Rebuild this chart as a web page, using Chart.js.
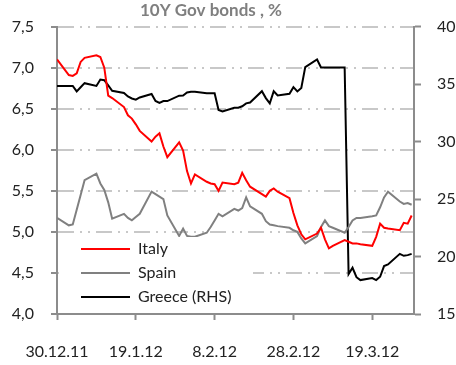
<!DOCTYPE html>
<html>
<head>
<meta charset="utf-8">
<script src="https://cdn.jsdelivr.net/npm/chart.js@4.4.1/dist/chart.umd.min.js"></script>
<style>
  body { margin: 0; background: #fff; }
</style>
</head>
<body>
<canvas id="bondChart" width="456" height="365"></canvas>
<script>
// days counted from 30.12.2011 (business days only)
const days = [0, 3, 4, 5, 6, 7, 10, 11, 12, 13, 14, 17, 18, 19, 20, 21, 24, 25, 26, 27, 28,
    31, 32, 33, 34, 35, 38, 39, 40, 41, 42, 45, 46, 47, 48, 49, 52, 53, 54, 55, 56,
    59, 60, 61, 62, 63, 66, 67, 68, 69, 70, 73, 74, 75, 76, 77, 80, 81, 82, 83, 84, 87, 88, 89, 90];

const italy = [7.10, 6.91, 6.90, 6.93, 7.07, 7.12, 7.15, 7.13, 7.00, 6.66, 6.63,
    6.52, 6.42, 6.38, 6.31, 6.23, 6.10, 6.16, 6.20, 6.04, 5.91,
    6.09, 5.99, 5.74, 5.59, 5.70, 5.61, 5.59, 5.58, 5.50, 5.60,
    5.58, 5.60, 5.72, 5.63, 5.55, 5.46, 5.43, 5.50, 5.53, 5.49,
    5.41, 5.23, 5.08, 4.97, 4.91, 4.98, 5.05, 4.91, 4.80, 4.83,
    4.90, 4.88, 4.86, 4.86, 4.85, 4.83, 4.94, 5.10, 5.05, 5.04, 5.02, 5.11, 5.10, 5.20];

const spain = [5.17, 5.08, 5.09, 5.27, 5.45, 5.63, 5.71, 5.59, 5.51, 5.36, 5.16,
    5.22, 5.17, 5.14, 5.18, 5.22, 5.49, 5.46, 5.43, 5.40, 5.20,
    4.95, 5.04, 4.95, 4.94, 4.94, 4.99, 5.06, 5.14, 5.22, 5.19,
    5.28, 5.26, 5.29, 5.42, 5.31, 5.22, 5.13, 5.09, 5.08, 5.07,
    5.05, 5.02, 5.00, 4.92, 4.86, 4.95, 5.06, 5.14, 5.07, 5.05,
    4.99, 5.06, 5.14, 5.17, 5.17, 5.19, 5.20, 5.30, 5.42, 5.49, 5.37, 5.34, 5.35, 5.33];

const greece = [34.84, 34.84, 34.84, 34.36, 34.72, 35.08, 34.84, 35.40, 35.34, 34.89, 34.42,
    34.23, 33.92, 33.75, 33.65, 33.84, 34.14, 33.53, 33.36, 33.52, 33.52,
    33.99, 34.01, 34.27, 34.34, 34.34, 34.21, 34.21, 34.20, 32.75, 32.62,
    32.94, 32.95, 33.07, 33.32, 33.40, 34.38, 33.78, 33.32, 34.38, 34.01,
    34.16, 34.73, 34.36, 34.66, 36.47, 37.14, 36.44, 36.44, 36.44, 36.44,
    36.44, 18.47, 19.02, 18.20, 17.95, 18.13, 17.95, 18.24, 19.17, 19.31, 20.23, 20.06, 20.12, 20.23];

const xTickDays = [0, 20, 40, 60, 80];
const xTickLabels = ['30.12.11', '19.1.12', '8.2.12', '28.2.12', '19.3.12'];

const seriesNames = ['Italy', 'Spain', 'Greece (RHS)'];
const seriesColors = ['#ff0000', '#808080', '#000000'];

const axisGrey = '#8c8c8c';

Chart.defaults.font.family = 'Lato';
Chart.defaults.font.size = 16;
Chart.defaults.color = '#222';

// title drawn by hand so it can sit left of centre like the original
const titlePlugin = {
    id: 'leftTitle',
    afterDraw(chart) {
        const ctx = chart.ctx;
        ctx.save();
        ctx.font = 'bold 17px Lato';
        ctx.fillStyle = '#7f7f7f';
        ctx.textAlign = 'center';
        ctx.textBaseline = 'middle';
        ctx.fillText('10Y Gov bonds , %', 211, 11);
        ctx.restore();
    }
};

// legend box inside the plot, bottom left
const boxLegend = {
    id: 'boxLegend',
    afterDatasetsDraw(chart) {
        const ctx = chart.ctx;
        const area = chart.chartArea;
        ctx.save();
        ctx.fillStyle = '#fff';
        ctx.fillRect(area.left + 2, 237, 194, 75);
        chart.data.datasets.forEach((ds, i) => {
            const y = 249 + i * 24;
            ctx.strokeStyle = ds.borderColor;
            ctx.lineWidth = 2;
            ctx.beginPath();
            ctx.moveTo(81, y);
            ctx.lineTo(130, y);
            ctx.stroke();
            ctx.fillStyle = '#222';
            ctx.font = '16px Lato';
            ctx.textBaseline = 'middle';
            ctx.fillText(ds.label, 138, y);
        });
        ctx.restore();
    }
};

function toPoints(values) {
    return values.map((v, i) => ({ x: days[i], y: v }));
}

const ctx = document.getElementById('bondChart').getContext('2d');
const chart = new Chart(ctx, {
    type: 'line',
    data: {
        datasets: [
            { label: seriesNames[0], data: toPoints(italy), borderColor: seriesColors[0], yAxisID: 'y' },
            { label: seriesNames[1], data: toPoints(spain), borderColor: seriesColors[1], yAxisID: 'y' },
            { label: seriesNames[2], data: toPoints(greece), borderColor: seriesColors[2], yAxisID: 'y2' }
        ]
    },
    options: {
        responsive: false,
        animation: false,
        layout: { padding: { top: 26 } },
        elements: {
            point: { radius: 0 },
            line: { borderWidth: 2, tension: 0 }
        },
        plugins: {
            legend: { display: false },
            title: { display: false },
            tooltip: { enabled: false }
        },
        scales: {
            x: {
                type: 'linear',
                min: 0,
                max: 90.6,
                afterBuildTicks: scale => {
                    scale.ticks = xTickDays.map(v => ({ value: v }));
                },
                afterFit: scale => { scale.height = 51; },
                ticks: {
                    autoSkip: false,
                    maxRotation: 0,
                    padding: 22,
                    callback: (v, i) => xTickLabels[i]
                },
                grid: { drawOnChartArea: false, tickLength: 6, tickColor: axisGrey, tickWidth: 2 },
                border: { color: axisGrey, width: 2 }
            },
            y: {
                position: 'left',
                min: 4,
                max: 7.5,
                afterFit: scale => { scale.width = 57; },
                ticks: {
                    stepSize: 0.5,
                    padding: 17,
                    callback: v => v.toFixed(1).replace('.', ',')
                },
                grid: {
                    color: c => (c.tick && c.tick.value === 4) ? 'rgba(0,0,0,0)' : '#c8c8c8',
                    lineWidth: 2,
                    tickLength: 6,
                    tickColor: axisGrey,
                    tickWidth: 2
                },
                border: { color: axisGrey, width: 2, dash: [16, 6, 2, 6, 2, 6] }
            },
            y2: {
                position: 'right',
                min: 15,
                max: 40,
                afterFit: scale => { scale.width = 42; },
                ticks: { stepSize: 5, padding: 16 },
                grid: { drawOnChartArea: false, tickLength: 7, tickColor: axisGrey, tickWidth: 2 },
                border: { color: axisGrey, width: 2 }
            }
        }
    },
    plugins: [titlePlugin, boxLegend]
});
</script>
</body>
</html>
